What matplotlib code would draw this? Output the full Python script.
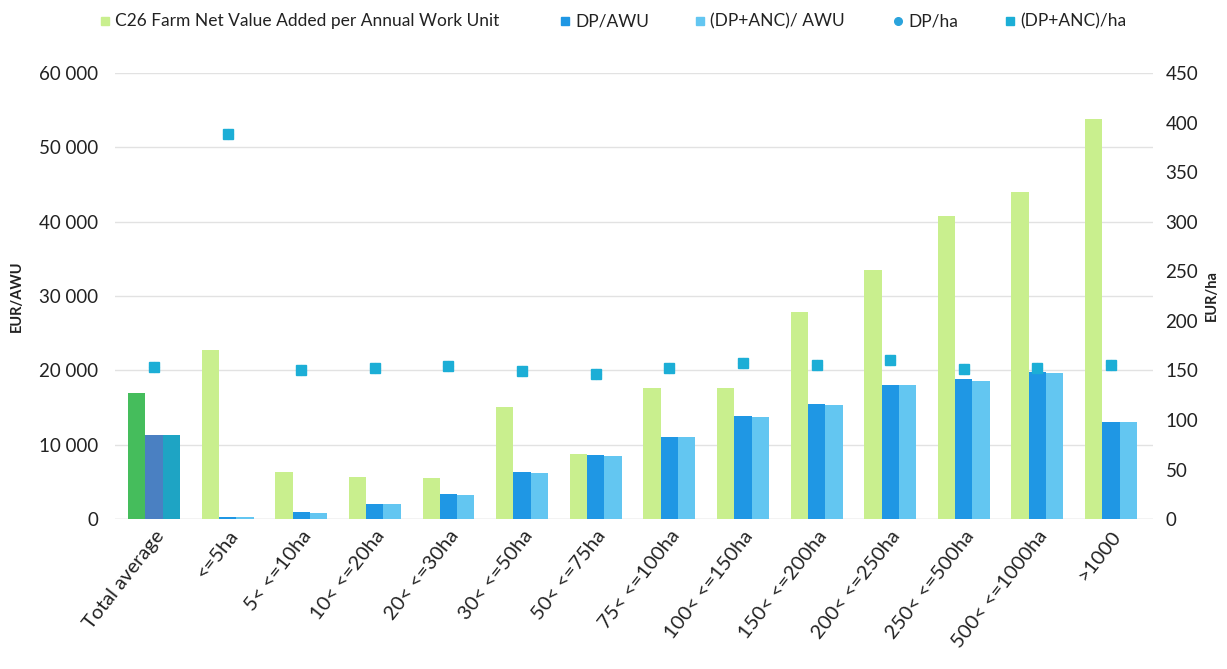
import numpy as np
import matplotlib
matplotlib.use("Agg")
import matplotlib.pyplot as plt
from matplotlib.lines import Line2D

plt.rcParams['font.family'] = ['Lato', 'DejaVu Sans']

# ---------------- data ----------------
categories = ["Total average", "<=5ha", "5< <=10ha", "10< <=20ha", "20< <=30ha",
              "30< <=50ha", "50< <=75ha", "75< <=100ha", "100< <=150ha",
              "150< <=200ha", "200< <=250ha", "250< <=500ha", "500< <=1000ha", ">1000"]

fnva_awu = [17000, 22700, 6400, 5700, 5500, 15100, 8700, 17600, 17600,
            27900, 33500, 40700, 44000, 53800]
dp_awu = [11300, 350, 900, 2100, 3400, 6300, 8600, 11100, 13900,
          15500, 18100, 18900, 19800, 13100]
dp_anc_awu = [11300, 300, 850, 2100, 3300, 6200, 8500, 11000, 13800,
              15400, 18000, 18600, 19600, 13000]
dp_ha = [153, 388, 150, 152, 154, 149, 146, 152, 157, 155, 160, 151, 152, 155]
dp_anc_ha = [153, 388, 150, 152, 154, 149, 146, 152, 157, 155, 160, 151, 152, 155]

left_ticks = [0, 10000, 20000, 30000, 40000, 50000, 60000]
right_ticks = [0, 50, 100, 150, 200, 250, 300, 350, 400, 450]

legend_labels = ["C26 Farm Net Value Added per Annual Work Unit", "DP/AWU",
                 "(DP+ANC)/ AWU", "DP/ha", "(DP+ANC)/ha"]

# ---------------- colours ----------------
c_green = "#c9ef8e"
c_dp = "#1f97e4"
c_anc = "#63c6f1"
c_mark = "#1caed6"
c_circ = "#2aa3dc"
# total average is highlighted with darker colours
green_cols = ["#45bd5c"] + [c_green] * (len(categories) - 1)
dp_cols = ["#4a80c2"] + [c_dp] * (len(categories) - 1)
anc_cols = ["#1ea4c4"] + [c_anc] * (len(categories) - 1)

fig = plt.figure(figsize=(12.27, 6.69), dpi=100)
ax = fig.add_axes([0.0937, 0.224, 0.846, 0.667])
ax2 = ax.twinx()

x = np.arange(len(categories))
w = 0.235
ax.bar(x - w, fnva_awu, w, color=green_cols, zorder=2)
ax.bar(x, dp_awu, w, color=dp_cols, zorder=2)
ax.bar(x + w, dp_anc_awu, w, color=anc_cols, zorder=2)

ax2.plot(x, dp_ha, 'o', color=c_circ, markersize=7, zorder=3)
ax2.plot(x, dp_anc_ha, 's', color=c_mark, markersize=7.5, zorder=4)

ax.set_xlim(-0.53, 13.57)
ax.set_ylim(0, 60000)
ax2.set_ylim(0, 450)
ax.set_yticks(left_ticks)
ax.set_yticklabels([f"{v:,}".replace(",", " ") for v in left_ticks])
ax2.set_yticks(right_ticks)
ax2.set_yticklabels([str(v) for v in right_ticks])

ax.set_xticks(x)
ax.set_xticklabels(categories, rotation=52, ha='right', rotation_mode='anchor')

ax.grid(axis='y', color='#e2e2e2', linewidth=1, zorder=0)
for a in (ax, ax2):
    for s in a.spines.values():
        s.set_visible(False)
    a.tick_params(length=0, labelsize=13.5, colors='#222222')
ax.tick_params(axis='y', pad=12)
ax.tick_params(axis='x', pad=6, labelsize=14.5)
ax2.tick_params(axis='y', pad=9)
ax.axhline(0, color='#dddddd', linewidth=1, zorder=1)

ax.set_ylabel("EUR/AWU", fontsize=10.5, fontweight='bold', color='#222222')
ax2.set_ylabel("EUR/ha", fontsize=10.5, fontweight='bold', color='#222222')
ax.yaxis.set_label_coords(-0.088, 0.5)
ax2.yaxis.set_label_coords(1.05, 0.5)

# legend row across the top
leg_x = [0.0856, 0.4605, 0.5705, 0.732, 0.823]
leg_mk = ['s', 's', 's', 'o', 's']
leg_col = [c_green, c_dp, c_anc, c_circ, c_mark]
for lx, mk, col, lab in zip(leg_x, leg_mk, leg_col, legend_labels):
    fig.add_artist(Line2D([lx], [0.968], marker=mk, color=col, markersize=5.5,
                          linestyle='', transform=fig.transFigure))
    fig.text(lx + 0.0085, 0.968, lab, fontsize=12.5, color='#222222',
             va='center', ha='left')

fig.savefig("out.png", dpi=100)
